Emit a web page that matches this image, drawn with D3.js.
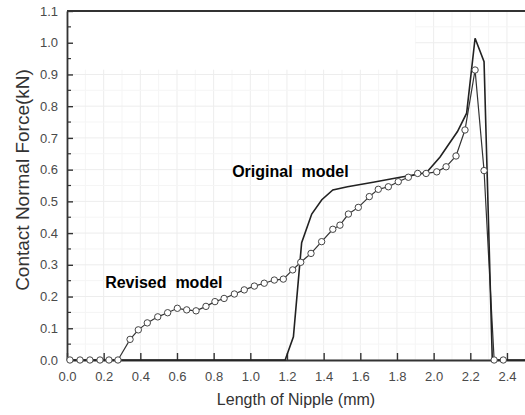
<!DOCTYPE html>
<html><head><meta charset="utf-8">
<script src="https://cdn.jsdelivr.net/npm/d3@7"></script>
<style>
html,body{margin:0;padding:0;background:#fff;}
svg{display:block;font-family:"Liberation Sans",Arial,sans-serif;}
</style></head>
<body><svg id="c" width="525" height="415"></svg>
<script>
// ---- data ----
const xTicks = [0.0,0.2,0.4,0.6,0.8,1.0,1.2,1.4,1.6,1.8,2.0,2.2,2.4];
const yTicks = [0.0,0.1,0.2,0.3,0.4,0.5,0.6,0.7,0.8,0.9,1.0,1.1];
const originalX = [0.0, 1.19, 1.235, 1.28, 1.335, 1.39, 1.45, 1.53, 1.67, 1.81, 1.96, 2.035, 2.13, 2.18, 2.226, 2.275, 2.32, 2.5];
const originalY = [0.0, 0.0, 0.073, 0.37, 0.46, 0.505, 0.536, 0.546, 0.56, 0.575, 0.59, 0.64, 0.72, 0.778, 1.014, 0.94, 0.0, 0.0];
const revisedX = [0.016,0.071,0.125,0.18,0.229,0.278,0.344,0.389,0.438,0.495,0.549,0.602,0.653,0.704,0.758,0.807,0.857,0.913,0.967,1.022,1.076,1.131,1.18,1.231,1.275,1.331,1.389,1.45,1.489,1.535,1.589,1.649,1.698,1.753,1.807,1.862,1.913,1.959,2.017,2.068,2.122,2.171,2.226,2.275,2.33,2.38];
const revisedY = [0,0,0,0,0,0,0.065,0.095,0.117,0.136,0.149,0.163,0.158,0.155,0.169,0.184,0.194,0.208,0.221,0.233,0.242,0.252,0.255,0.284,0.308,0.336,0.373,0.412,0.425,0.46,0.481,0.515,0.538,0.546,0.562,0.576,0.588,0.588,0.593,0.609,0.643,0.725,0.914,0.597,0,0];
const annotationText = ["Original  model", "Revised  model"];
const annotationX = [0.901, 0.208];
const annotationY = [0.576, 0.226];

const svg = d3.select("#c");
const x = d3.scaleLinear().domain([0,2.5]).range([67,525.3]);
const y = d3.scaleLinear().domain([0,1.1]).range([360,11]);

// grid
const grid = svg.append("g");
const gx = d3.range(0,2.51,0.1), gy = d3.range(0,1.101,0.05);
grid.selectAll("line.vx").data(gx).join("line")
  .attr("x1",d=>x(d)).attr("x2",d=>x(d)).attr("y1",y(0)).attr("y2",y(1.1))
  .attr("stroke",(d,i)=>i%2===0?"#ededed":"#f5f5f5").attr("stroke-width",1);
grid.selectAll("line.hy").data(gy).join("line")
  .attr("y1",d=>y(d)).attr("y2",d=>y(d)).attr("x1",x(0)).attr("x2",x(2.5))
  .attr("stroke",(d,i)=>i%2===0?"#ededed":"#f5f5f5").attr("stroke-width",1);
// blank upper-left area as in the reference
svg.append("rect").attr("x",x(0)).attr("y",y(1.1)).attr("width",x(1.9)-x(0)).attr("height",y(0.915)-y(1.1)).attr("fill","#fff");

// axes
const xAxis = d3.axisBottom(x).tickValues(xTicks).tickFormat(d3.format(".1f")).tickSizeInner(-7).tickSizeOuter(0).tickPadding(12);
const gX = svg.append("g").attr("transform",`translate(0,${y(0)})`).call(xAxis);
const yAxis = d3.axisLeft(y).tickValues(yTicks).tickFormat(d3.format(".1f")).tickSizeInner(-6).tickSizeOuter(0).tickPadding(9);
const gY = svg.append("g").attr("transform",`translate(${x(0)},0)`).call(yAxis);
// minor y ticks
svg.append("g").selectAll("line").data(d3.range(0.05,1.1,0.1)).join("line")
  .attr("x1",x(0)).attr("x2",x(0)+4).attr("y1",d=>y(d)).attr("y2",d=>y(d))
  .attr("stroke","#333").attr("stroke-width",1.2);
[gX,gY].forEach(g=>{
  g.select(".domain").attr("stroke","#333").attr("stroke-width",1.8);
  g.selectAll(".tick line").attr("stroke","#333").attr("stroke-width",1.4);
  g.selectAll(".tick text").attr("fill","#4a4a4a").attr("font-size",13).attr("font-family","'Liberation Sans',Arial,sans-serif");
});
// top frame
svg.append("line").attr("x1",x(0)).attr("x2",x(2.5)).attr("y1",y(1.1)).attr("y2",y(1.1)).attr("stroke","#333").attr("stroke-width",1.8);

// lines
const line = d3.line().x(d=>x(d[0])).y(d=>y(d[1]));
const orig = originalX.map((v,i)=>[v,originalY[i]]);
const rev = revisedX.map((v,i)=>[v,revisedY[i]]);
svg.append("path").datum(rev).attr("d",line).attr("fill","none").attr("stroke","#333").attr("stroke-width",1.2);
svg.append("path").datum(orig).attr("d",line).attr("fill","none").attr("stroke","#222").attr("stroke-width",1.6);
svg.append("g").selectAll("circle").data(rev).join("circle")
  .attr("cx",d=>x(d[0])).attr("cy",d=>y(d[1])).attr("r",3.2)
  .attr("fill","#fff").attr("stroke","#444").attr("stroke-width",1);

// annotations
svg.append("g").selectAll("text").data(annotationText).join("text")
  .attr("x",(d,i)=>x(annotationX[i])).attr("y",(d,i)=>y(annotationY[i])).text(d=>d)
  .attr("font-size",16).attr("font-weight","bold").attr("fill","#000")
  .style("white-space","pre").attr("xml:space","preserve")
  .attr("font-family","Arial,'Liberation Sans',sans-serif");

// axis titles
svg.append("text").attr("x",296).attr("y",405).attr("text-anchor","middle")
  .attr("font-size",16).attr("fill","#333").text("Length of Nipple (mm)");
svg.append("text").attr("transform","translate(29,180) rotate(-90)").attr("text-anchor","middle")
  .attr("font-size",19).attr("fill","#333").text("Contact Normal Force(kN)");
</script>
</body></html>
